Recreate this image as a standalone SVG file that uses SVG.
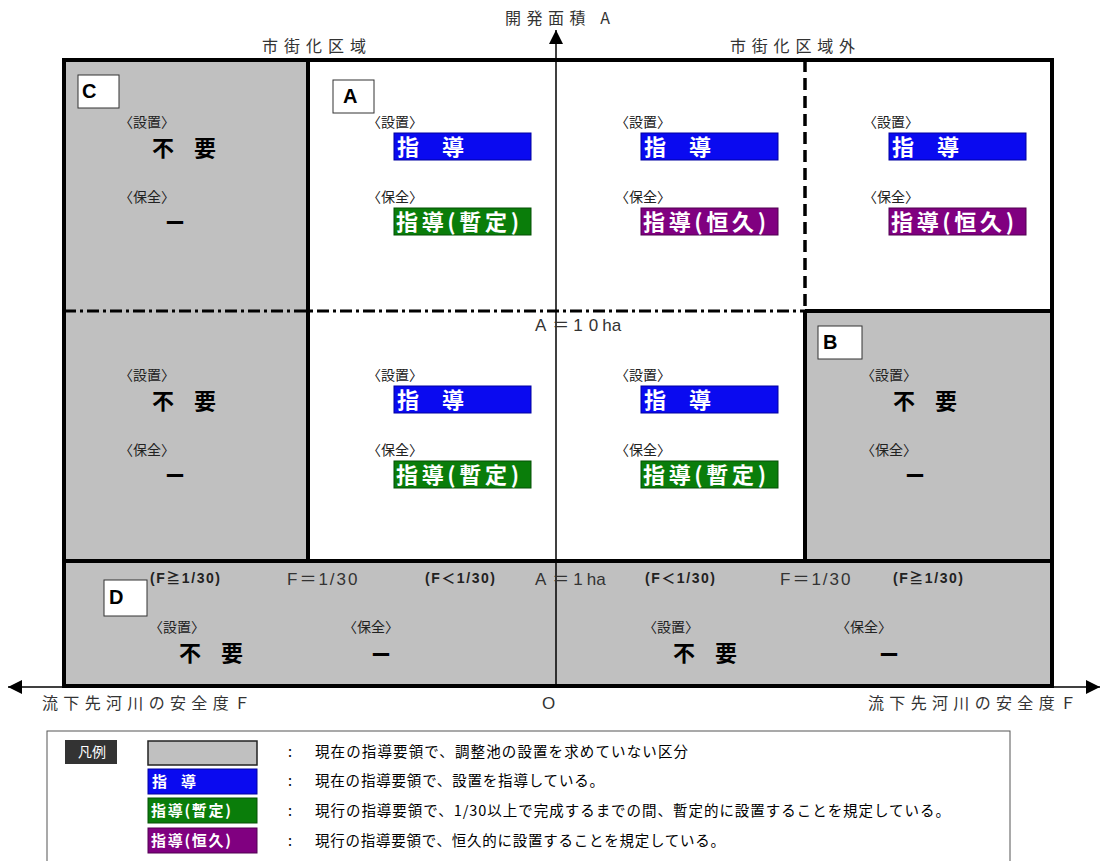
<svg xmlns="http://www.w3.org/2000/svg" width="1101" height="861" viewBox="0 0 1101 861">
<defs>
<style>
.jp{font-family:"Noto Sans CJK JP","Liberation Sans",sans-serif;}
.lab{font-family:"Noto Sans CJK JP",sans-serif;font-size:14px;fill:#222;}
.big{font-family:"Noto Sans CJK JP",sans-serif;font-size:22px;font-weight:bold;fill:#000;}
.dash{font-family:"Noto Sans CJK JP",sans-serif;font-size:20px;font-weight:bold;fill:#000;}
.btxt{font-family:"Noto Sans CJK JP",sans-serif;font-size:22px;font-weight:bold;fill:#fff;}
.ltxt{font-family:"Noto Sans CJK JP",sans-serif;font-size:15px;font-weight:bold;fill:#fff;}
.axis{font-family:"Noto Sans CJK JP","Liberation Sans",sans-serif;font-size:16px;fill:#333;}
.ftxt{font-family:"Liberation Sans","Noto Sans CJK JP",sans-serif;font-size:17px;fill:#333;}
.fb{font-family:"Liberation Sans","Noto Sans CJK JP",sans-serif;font-size:14px;font-weight:bold;fill:#222;}
.leg{font-family:"Noto Sans CJK JP",sans-serif;font-size:14.5px;fill:#000;}
.gray{fill:#c0c0c0;}
.blue{fill:#0a0af0;stroke:#0000a0;stroke-width:1;}
.green{fill:#0a7d0a;stroke:#055005;stroke-width:1;}
.purple{fill:#800080;stroke:#500050;stroke-width:1;}
.tag{fill:#fff;stroke:#333;stroke-width:1;}
.tagt{font-family:"Liberation Sans",sans-serif;font-size:20px;font-weight:bold;fill:#000;}
.thick{stroke:#000;stroke-width:4;fill:none;}
</style>
<marker id="ah" viewBox="0 0 10 10" refX="10" refY="5" markerWidth="14" markerHeight="14" markerUnits="userSpaceOnUse" orient="auto">
<path d="M0,0 L10,5 L0,10 z" fill="#000"/>
</marker>
</defs>
<rect width="1101" height="861" fill="#fff"/>

<!-- region fills -->
<g id="fills">
<rect class="gray" x="64" y="60" width="244" height="501"/>
<rect class="gray" x="805" y="311" width="247" height="250"/>
<rect class="gray" x="64" y="561" width="988" height="125"/>
</g>

<!-- connectors / grid lines / axes -->
<g id="connectors">
<line x1="556" y1="686" x2="556" y2="30" stroke="#000" stroke-width="1.5" marker-end="url(#ah)"/>
<line x1="556" y1="687" x2="8" y2="687" stroke="#000" stroke-width="1.5" marker-end="url(#ah)"/>
<line x1="556" y1="687" x2="1100" y2="687" stroke="#000" stroke-width="1.5" marker-end="url(#ah)"/>
<line class="thick" x1="308" y1="60" x2="308" y2="561"/>
<line x1="805" y1="60" x2="805" y2="311" stroke="#000" stroke-width="3.5" stroke-dasharray="12 6"/>
<line class="thick" x1="805" y1="311" x2="805" y2="561"/>
<line x1="64" y1="311" x2="805" y2="311" stroke="#000" stroke-width="3" stroke-dasharray="12 4 3 4"/>
<line class="thick" x1="805" y1="311" x2="1052" y2="311"/>
<line class="thick" x1="64" y1="561" x2="1052" y2="561"/>
<rect class="thick" x="64" y="60" width="988" height="626"/>
</g>

<!-- axis labels -->
<g id="axis-labels">
<text class="axis" x="505" y="24" textLength="105" lengthAdjust="spacing">開発面積 A</text>
<text class="axis" x="262" y="52" textLength="104" lengthAdjust="spacing">市街化区域</text>
<text class="axis" x="730" y="52" textLength="125" lengthAdjust="spacing">市街化区域外</text>
<text class="axis" x="42" y="709" textLength="208" lengthAdjust="spacing">流下先河川の安全度Ｆ</text>
<text class="axis" x="868" y="709" textLength="208" lengthAdjust="spacing">流下先河川の安全度Ｆ</text>
<text class="ftxt" x="542" y="709" font-size="15">O</text>
<text class="ftxt" x="535" y="331" font-size="16" dx="0 6 4 6 4 0 0">A＝10ha</text>
</g>

<!-- region C -->
<g id="region-C">
<rect class="tag" x="78" y="75" width="41" height="33"/>
<text class="tagt" x="82" y="98">C</text>
<text class="lab" x="119" y="127">〈設置〉</text>
<text class="big" x="152" y="156" textLength="64" lengthAdjust="spacing">不 要</text>
<text class="lab" x="119" y="202">〈保全〉</text>
<text class="dash" x="165" y="231">ー</text>
<text class="lab" x="119" y="380">〈設置〉</text>
<text class="big" x="152" y="409" textLength="64" lengthAdjust="spacing">不 要</text>
<text class="lab" x="119" y="455">〈保全〉</text>
<text class="dash" x="165" y="484">ー</text>
</g>

<!-- region A -->
<g id="region-A">
<rect class="tag" x="333" y="80" width="41" height="33"/>
<text class="tagt" x="343" y="103">A</text>
<text class="lab" x="367" y="127">〈設置〉</text>
<rect class="blue" x="394" y="133" width="137" height="27"/>
<text class="btxt" x="397" y="155" textLength="67" lengthAdjust="spacing">指 導</text>
<text class="lab" x="367" y="202">〈保全〉</text>
<rect class="green" x="394" y="208" width="137" height="27"/>
<text class="btxt" x="396" y="230" textLength="123" lengthAdjust="spacing">指導(暫定)</text>

<text class="lab" x="615" y="127">〈設置〉</text>
<rect class="blue" x="641" y="133" width="137" height="27"/>
<text class="btxt" x="644" y="155" textLength="67" lengthAdjust="spacing">指 導</text>
<text class="lab" x="615" y="202">〈保全〉</text>
<rect class="purple" x="641" y="208" width="137" height="27"/>
<text class="btxt" x="643" y="230" textLength="123" lengthAdjust="spacing">指導(恒久)</text>

<text class="lab" x="863" y="127">〈設置〉</text>
<rect class="blue" x="889" y="133" width="137" height="27"/>
<text class="btxt" x="892" y="155" textLength="67" lengthAdjust="spacing">指 導</text>
<text class="lab" x="863" y="202">〈保全〉</text>
<rect class="purple" x="889" y="208" width="137" height="27"/>
<text class="btxt" x="891" y="230" textLength="123" lengthAdjust="spacing">指導(恒久)</text>

<text class="lab" x="367" y="380">〈設置〉</text>
<rect class="blue" x="394" y="386" width="137" height="27"/>
<text class="btxt" x="397" y="408" textLength="67" lengthAdjust="spacing">指 導</text>
<text class="lab" x="367" y="455">〈保全〉</text>
<rect class="green" x="394" y="461" width="137" height="27"/>
<text class="btxt" x="396" y="483" textLength="123" lengthAdjust="spacing">指導(暫定)</text>

<text class="lab" x="615" y="380">〈設置〉</text>
<rect class="blue" x="641" y="386" width="137" height="27"/>
<text class="btxt" x="644" y="408" textLength="67" lengthAdjust="spacing">指 導</text>
<text class="lab" x="615" y="455">〈保全〉</text>
<rect class="green" x="641" y="461" width="137" height="27"/>
<text class="btxt" x="643" y="483" textLength="123" lengthAdjust="spacing">指導(暫定)</text>
</g>

<!-- region B -->
<g id="region-B">
<rect class="tag" x="818" y="326" width="44" height="33"/>
<text class="tagt" x="823" y="349">B</text>
<text class="lab" x="861" y="380">〈設置〉</text>
<text class="big" x="893" y="409" textLength="64" lengthAdjust="spacing">不 要</text>
<text class="lab" x="861" y="455">〈保全〉</text>
<text class="dash" x="905" y="484">ー</text>
</g>

<!-- region D -->
<g id="region-D">
<rect class="tag" x="104" y="580" width="43" height="36"/>
<text class="tagt" x="109" y="604">D</text>
<text class="fb" x="150" y="583" textLength="70" lengthAdjust="spacing">(F≧1/30)</text>
<text class="ftxt" x="287" y="585" letter-spacing="2">F＝1/30</text>
<text class="fb" x="425" y="583" textLength="70" lengthAdjust="spacing">(F＜1/30)</text>
<text class="ftxt" x="535" y="585" font-size="16" dx="0 6 4 4 0 0">A＝1ha</text>
<text class="fb" x="645" y="583" textLength="70" lengthAdjust="spacing">(F＜1/30)</text>
<text class="ftxt" x="780" y="585" letter-spacing="2">F＝1/30</text>
<text class="fb" x="893" y="583" textLength="70" lengthAdjust="spacing">(F≧1/30)</text>
<text class="lab" x="149" y="632">〈設置〉</text>
<text class="big" x="179" y="661" textLength="64" lengthAdjust="spacing">不 要</text>
<text class="lab" x="343" y="632">〈保全〉</text>
<text class="dash" x="371" y="663">ー</text>
<text class="lab" x="643" y="632">〈設置〉</text>
<text class="big" x="673" y="661" textLength="64" lengthAdjust="spacing">不 要</text>
<text class="lab" x="836" y="632">〈保全〉</text>
<text class="dash" x="879" y="663">ー</text>
</g>

<!-- legend -->
<g id="legend">
<rect x="47" y="731" width="963" height="140" fill="#fff" stroke="#555" stroke-width="1"/>
<rect x="65" y="740" width="52" height="24" fill="#333"/>
<text class="jp" x="78" y="757" font-size="14" fill="#fff">凡例</text>
<rect x="148" y="741" width="109" height="24" fill="#c0c0c0" stroke="#222" stroke-width="1.5"/>
<rect class="blue" x="148" y="769" width="109" height="25"/>
<text class="ltxt" x="152" y="787" textLength="44" lengthAdjust="spacing">指 導</text>
<rect class="green" x="148" y="798" width="109" height="25"/>
<text class="ltxt" x="151" y="816" textLength="80" lengthAdjust="spacing">指導(暫定)</text>
<rect class="purple" x="148" y="828" width="109" height="25"/>
<text class="ltxt" x="151" y="846" textLength="80" lengthAdjust="spacing">指導(恒久)</text>
<text class="leg" x="288" y="757">:</text>
<text class="leg" x="288" y="786">:</text>
<text class="leg" x="288" y="816">:</text>
<text class="leg" x="288" y="846">:</text>
<text class="leg" x="315" y="757" textLength="373" lengthAdjust="spacing">現在の指導要領で、調整池の設置を求めていない区分</text>
<text class="leg" x="315" y="786" textLength="289" lengthAdjust="spacing">現在の指導要領で、設置を指導している。</text>
<text class="leg" x="315" y="816" textLength="635" lengthAdjust="spacing">現行の指導要領で、1/30以上で完成するまでの間、暫定的に設置することを規定している。</text>
<text class="leg" x="315" y="846" textLength="410" lengthAdjust="spacing">現行の指導要領で、恒久的に設置することを規定している。</text>
</g>
</svg>
